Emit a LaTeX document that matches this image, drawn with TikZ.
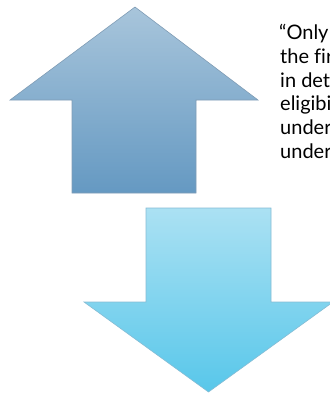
\documentclass[tikz,border=0pt]{standalone}
\usepackage{fontspec}
\setmainfont{Lato}[Ligatures=NoCommon]
\definecolor{uptop}{HTML}{A8C5DB}
\definecolor{upbot}{HTML}{6599C2}
\definecolor{dntop}{HTML}{ABE1F3}
\definecolor{dnbot}{HTML}{58C7EA}
\definecolor{upline}{HTML}{7F9CB5}
\definecolor{dnline}{HTML}{86BCD4}
\tikzset{
  arrowshape/.style={line width=0.6bp, line join=miter},
  txt/.style={anchor=base west, inner sep=0pt, font=\fontsize{20bp}{24bp}\selectfont, text=black}
}
\begin{document}
\begin{tikzpicture}[x=1bp,y=-1bp]
\useasboundingbox (0,0) rectangle (330,393);
\clip (0,0) rectangle (330,393);
\path[arrowshape, draw=upline, top color=uptop, bottom color=upbot]
  (135,7) -- (258,100) -- (196,100) -- (196,193) -- (72,193) -- (72,100) -- (10,100) -- cycle;
\path[arrowshape, draw=dnline, top color=dntop, bottom color=dnbot]
  (146,208) -- (271,208) -- (271,302) -- (333,302) -- (208.5,392) -- (84,302) -- (146,302) -- cycle;
\node[txt] (t1) at (279,39.5) {“Only};
\node[txt] (t2) at (280,63.3) {the fir};
\node[txt] (t3) at (280,87.1) {in det};
\node[txt] (t4) at (280,110.9) {eligibi};
\node[txt] (t5) at (280,134.7) {under};
\node[txt] (t6) at (280,158.5) {under};
\end{tikzpicture}
\end{document}
